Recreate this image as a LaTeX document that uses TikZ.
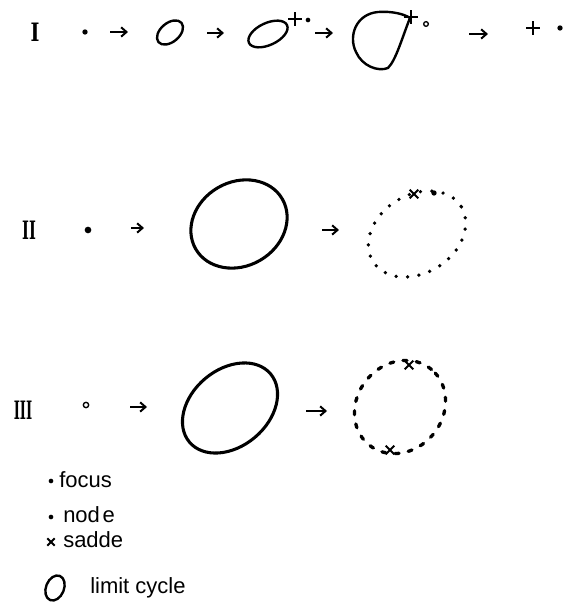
\documentclass[tikz,border=0pt]{standalone}
\usepackage{fontspec}
\newfontfamily\legendfont{Liberation Sans}
\newfontfamily\numfont{DejaVu Serif}
\usetikzlibrary{arrows.meta,shapes.misc}
\begin{document}
\begin{tikzpicture}[x=0.75pt,y=0.75pt,
  bigcurve/.style={line width=2.3pt},
  smallcurve/.style={line width=1.8pt},
  arr/.style={line width=1.5pt,-{Straight Barb[length=4pt,width=7pt]}},
  dotmark/.style={circle,fill=black,inner sep=0pt,minimum size=4pt},
  ringmark/.style={circle,draw=black,line width=1pt,inner sep=0pt,minimum size=4pt},
  plusmark/.style={cross out,draw=black,line width=1.4pt,inner sep=0pt,minimum size=6pt,rotate=45},
  xmark/.style={cross out,draw=black,line width=1.5pt,inner sep=0pt,minimum size=5pt},
  numeral/.style={font=\numfont\bfseries\fontsize{19}{19}\selectfont,inner sep=0pt},
  legtext/.style={font=\legendfont\fontsize{16.5}{18}\selectfont,anchor=west,inner sep=0pt},
  dottedcurve/.style={line width=2.8pt,line cap=round,dash pattern=on 0pt off 8.6pt},
  dashedcurve/.style={line width=2.5pt,line cap=round,dash pattern=on 3pt off 7pt}
]
\useasboundingbox (0,0) rectangle (569,603);

% ---------- Row I ----------
\node[numeral] (n1) at (35,570.5) {\scalebox{0.75}[1]{I}};
\node[dotmark] (p1) at (85,571) {};
\coordinate (a1s) at (110,571); \coordinate (a1e) at (128,571);
\draw[arr] (a1s) -- (a1e);
\draw[smallcurve] (170,570.5) ellipse [x radius=15,y radius=9.5,rotate=40];
\coordinate (a2s) at (207,570); \coordinate (a2e) at (224,570);
\draw[arr] (a2s) -- (a2e);
\draw[smallcurve] (268,569) ellipse [x radius=21,y radius=11,rotate=25];
\node[plusmark] (s1) at (295,584) {};
\node[dotmark,minimum size=3.5pt] (p2) at (308,583) {};
\coordinate (a3s) at (315,570); \coordinate (a3e) at (333,570);
\draw[arr] (a3s) -- (a3e);
\draw[smallcurve,line join=round] (410,585) .. controls (402,565) and (396,543) .. (388,535)
  .. controls (378,531) and (362,537) .. (356,551)
  .. controls (348,567) and (356,589) .. (378,591)
  .. controls (392,592) and (404,589) .. (410,585);
\node[plusmark] (s2) at (411,586) {};
\node[ringmark,minimum size=3.5pt] (p3) at (426,579) {};
\coordinate (a4s) at (469,569); \coordinate (a4e) at (488,569);
\draw[arr] (a4s) -- (a4e);
\node[plusmark] (s3) at (533,575) {};
\node[dotmark] (p4) at (560,575) {};

% ---------- Row II ----------
\node[numeral] (n2) at (29,373) {\scalebox{0.58}[1]{II}};
\node[dotmark,minimum size=5pt] (p5) at (88,373) {};
\coordinate (b1s) at (131,375); \coordinate (b1e) at (144,375);
\draw[arr] (b1s) -- (b1e);
\draw[bigcurve] (239,379) ellipse [x radius=50,y radius=42,rotate=30];
\coordinate (b2s) at (322,373); \coordinate (b2e) at (339,373);
\draw[arr] (b2s) -- (b2e);
\draw[dottedcurve] (417,369) ellipse [x radius=52,y radius=39,rotate=32];
\node[xmark] (s4) at (414,409) {};
\node[dotmark] (p6) at (434,410) {};

% ---------- Row III ----------
\node[numeral] (n3) at (23,193) {\scalebox{0.52}[1]{III}};
\node[ringmark] (p7) at (86,198) {};
\coordinate (c1s) at (130,196); \coordinate (c1e) at (147,196);
\draw[arr] (c1s) -- (c1e);
\draw[bigcurve] (230,195) ellipse [x radius=53,y radius=38.5,rotate=40];
\coordinate (c2s) at (306,192); \coordinate (c2e) at (327,192);
\draw[arr] (c2s) -- (c2e);
\draw[dashedcurve] (400,196) ellipse [x radius=49,y radius=43,rotate=50];
\node[xmark] (s5) at (409,238) {};
\node[xmark] (s6) at (390,153) {};

% ---------- Legend ----------
\node[dotmark,minimum size=3.5pt] (lf) at (51,122) {};
\node[legtext] (tf) at (59,123) {focus};
\node[dotmark,minimum size=3.5pt] (ln) at (51,86) {};
\node[legtext] (tn) at (63,88) {nod\hspace{2pt}e};
\node[xmark,minimum size=4pt] (ls) at (51,61) {};
\node[legtext] (ts) at (63,63) {sadde};
\draw[smallcurve] (55,15) ellipse [x radius=13,y radius=9,rotate=68];
\node[legtext] (tl) at (90,15) {limit cycle};
\end{tikzpicture}
\end{document}
